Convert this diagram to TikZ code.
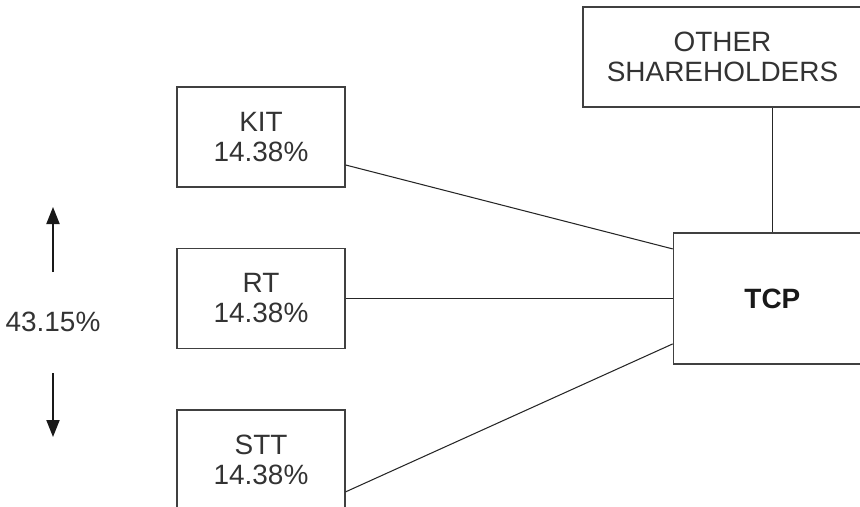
\documentclass[tikz,border=0pt]{standalone}
\usepackage{fontspec}
\setmainfont{Liberation Sans}
\usetikzlibrary{shapes, arrows, arrows.meta, positioning}
\newcommand{\labelsize}{\fontsize{15.9}{17.1}\selectfont}
\tikzstyle{holder} = [rectangle, minimum width=3.36cm, minimum height=2cm, inner sep=0pt, text centered, draw=black!75, line width=0.8pt, text=black!80]
\tikzstyle{company} = [rectangle, minimum width=3.96cm, minimum height=2.62cm, inner sep=0pt, text centered, draw=black!75, line width=0.8pt, text=black!90, font=\labelsize\bfseries]
\tikzstyle{others} = [rectangle, minimum width=5.58cm, minimum height=2cm, inner sep=0pt, text centered, draw=black!75, line width=0.8pt, text=black!80]
\tikzstyle{link} = [black!85, line width=0.6pt]
\tikzstyle{arrow} = [black!90, line width=1.1pt, -{Triangle[length=0.34cm, width=0.26cm]}]

\begin{document}
\begin{tikzpicture}[node distance=1.2cm, align=center, font=\labelsize]
    \clip (0,0) rectangle (17.2,-10.12);
    \useasboundingbox (0,0) rectangle (17.2,-10.12);

    % Nodes
    \node (kit) [holder] at (5.22,-2.74) {KIT\\14.38\%};
    \node (rt) [holder, below=of kit] {RT\\14.38\%};
    \node (stt) [holder, below=of rt] {STT\\14.38\%};
    \node (tcp) [company, right=6.54cm of rt] {TCP};
    \node (other) [others] at (14.45,-1.14) {OTHER\\SHAREHOLDERS};
    \node (pct) [text=black!80] at (1.06,-6.44) {43.15\%};
    \coordinate (uptail) at (1.06,-5.44);
    \coordinate (uptip) at (1.06,-4.14);
    \coordinate (downtail) at (1.06,-7.46);
    \coordinate (downtip) at (1.06,-8.74);

    % Lines
    \draw [link] ([yshift=-0.56cm]kit.east) -- ([yshift=0.99cm]tcp.west);
    \draw [link] (rt.east) -- (rt.east -| tcp.west);
    \draw [link] ([yshift=-0.64cm]stt.east) -- ([yshift=-0.91cm]tcp.west);
    \draw [link] (tcp.north) -- (tcp.north |- other.south);

    % Arrows
    \draw [arrow] (uptail) -- (uptip);
    \draw [arrow] (downtail) -- (downtip);

\end{tikzpicture}
\end{document}
